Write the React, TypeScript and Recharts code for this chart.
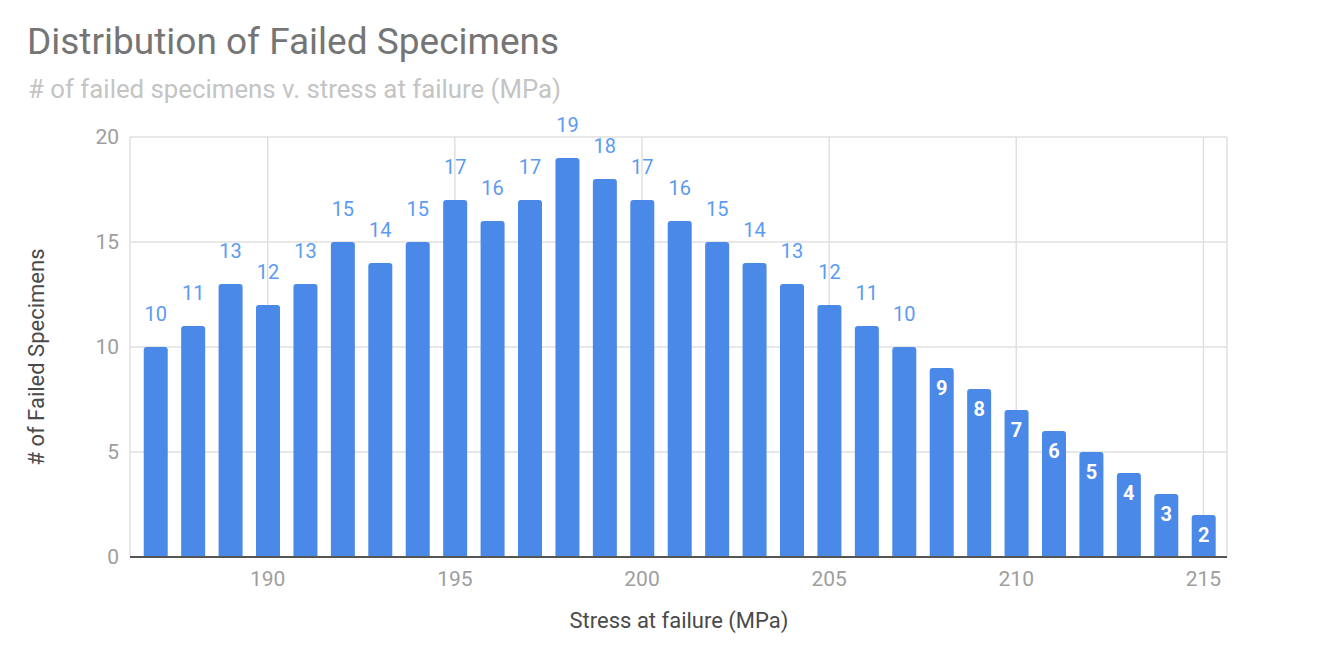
import React from "react";
import { BarChart, Bar, XAxis, YAxis, CartesianGrid, LabelList } from "recharts";

const stress = [187, 188, 189, 190, 191, 192, 193, 194, 195, 196, 197, 198, 199, 200, 201, 202, 203, 204, 205, 206, 207, 208, 209, 210, 211, 212, 213, 214, 215];
const failed = [10, 11, 13, 12, 13, 15, 14, 15, 17, 16, 17, 19, 18, 17, 16, 15, 14, 13, 12, 11, 10, 9, 8, 7, 6, 5, 4, 3, 2];
const xTicks = [190, 195, 200, 205, 210, 215];
const yTicks = [0, 5, 10, 15, 20];

const data = stress.map((s, i) => ({ stress: s, failed: failed[i] }));

const FONT = "Roboto, 'Noto Sans', sans-serif";

const renderLabel = (props: any) => {
  const { x, y, width, value } = props;
  const cx = Number(x) + Number(width) / 2;
  if (Number(value) >= 10) {
    return (
      <text x={cx} y={Number(y) - 33} textAnchor="middle" dominantBaseline="central" fill="#5b9bf1" fontSize={20} fontFamily={FONT}>
        {value}
      </text>
    );
  }
  return (
    <text x={cx} y={Number(y) + 20} textAnchor="middle" dominantBaseline="central" fill="#ffffff" fontSize={20} fontWeight={700} fontFamily={FONT}>
      {value}
    </text>
  );
};

export default function App() {
  return (
    <div style={{ position: "relative", width: 1336, height: 662, fontFamily: FONT, background: "#fff" }}>
      <style>{`body{margin:0}`}</style>
      <div style={{ position: "absolute", left: 27, top: 20, fontSize: 37, color: "#757575", whiteSpace: "nowrap", lineHeight: 1.2 }}>
        Distribution of Failed Specimens
      </div>
      <div style={{ position: "absolute", left: 28, top: 74, fontSize: 25.8, color: "#c4c4c4", whiteSpace: "nowrap", lineHeight: 1.2 }}>
        # of failed specimens v. stress at failure (MPa)
      </div>
      <div
        style={{
          position: "absolute",
          left: 35.5,
          top: 357,
          fontSize: 22,
          color: "#4a4a4a",
          whiteSpace: "nowrap",
          transform: "translate(-50%, -50%) rotate(-90deg)",
        }}
      >
        # of Failed Specimens
      </div>
      <div
        style={{
          position: "absolute",
          left: 679,
          top: 620,
          fontSize: 22,
          color: "#4a4a4a",
          whiteSpace: "nowrap",
          transform: "translate(-50%, -50%)",
        }}
      >
        Stress at failure (MPa)
      </div>
      <BarChart
        width={1336}
        height={662}
        data={data}
        margin={{ top: 137, right: 109, bottom: 0, left: 0 }}
        style={{ position: "absolute", left: 0, top: 0 }}
      >
        <CartesianGrid stroke="#e0e0e0" strokeWidth={1.5} />
        <XAxis
          dataKey="stress"
          type="number"
          domain={[186.32, 215.63]}
          ticks={xTicks}
          allowDataOverflow
          height={105}
          tickSize={0}
          tickMargin={14}
          tickLine={false}
          axisLine={{ stroke: "#555", strokeWidth: 2 }}
          tick={{ fill: "#9e9e9e", fontSize: 21, fontFamily: FONT }}
        />
        <YAxis
          type="number"
          domain={[0, 20]}
          ticks={yTicks}
          width={130}
          tickSize={0}
          tickMargin={11}
          tickLine={false}
          axisLine={false}
          tick={{ fill: "#9e9e9e", fontSize: 21, fontFamily: FONT }}
        />
        <Bar dataKey="failed" fill="#4a89e8" barSize={24} radius={[3, 3, 0, 0]} isAnimationActive={false}>
          <LabelList dataKey="failed" content={renderLabel} />
        </Bar>
      </BarChart>
    </div>
  );
}
